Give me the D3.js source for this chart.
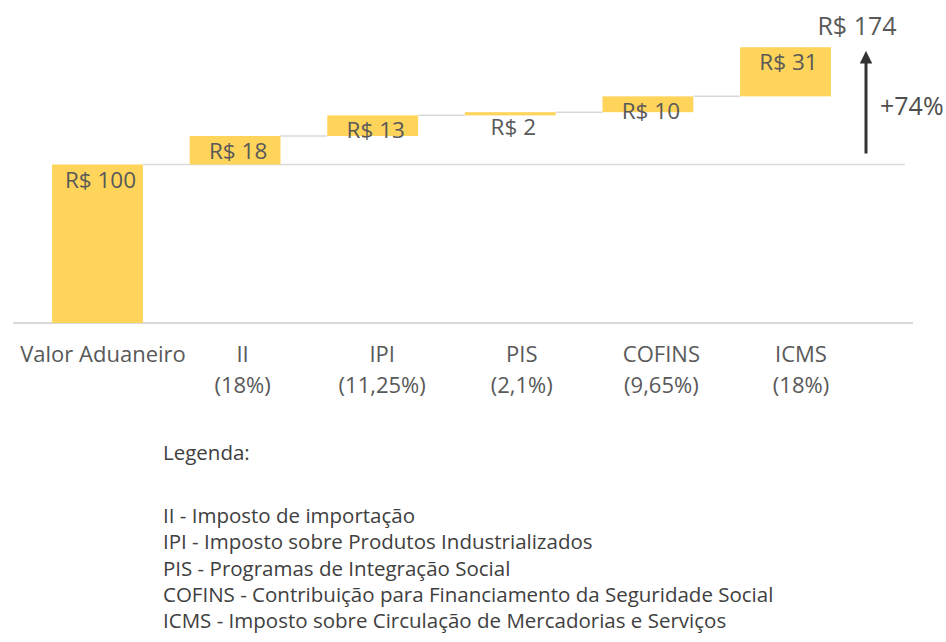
<!DOCTYPE html>
<html>
<head>
<meta charset="utf-8">
<script src="https://cdn.jsdelivr.net/npm/d3@7"></script>
<style>
  body { margin: 0; background: #fff; }
  text { font-family: "Open Sans", sans-serif; }
</style>
</head>
<body>
<svg id="chart" width="946" height="642"></svg>
<script>
// chart data
const categories = ["Valor Aduaneiro", "II", "IPI", "PIS", "COFINS", "ICMS"];
const rates = ["", "(18%)", "(11,25%)", "(2,1%)", "(9,65%)", "(18%)"];
const values = [100, 18, 13, 2, 10, 31];
const totalValue = 174;
const growthLabel = "+74%";

const legendTitle = "Legenda:";
const legendItems = [
  "II - Imposto de importação",
  "IPI - Imposto sobre Produtos Industrializados",
  "PIS - Programas de Integração Social",
  "COFINS - Contribuição para Financiamento da Seguridade Social",
  "ICMS - Imposto sobre Circulação de Mercadorias e Serviços"
];

const svg = d3.select("#chart");

// waterfall start / end for each step
let running = 0;
const steps = categories.map((c, i) => {
  const start = i === 0 ? 0 : running;
  running = (i === 0 ? 0 : running) + values[i];
  return { cat: c, start: start, end: running, value: values[i] };
});

const x = d3.scaleBand()
  .domain(categories)
  .range([28.7, 854.3])
  .paddingInner(0.34)
  .paddingOuter(0.17);

const y = d3.scaleLinear()
  .domain([0, 200])
  .range([323, 6]);

const xLabel = d3.scalePoint()
  .domain(categories)
  .range([103, 801]);

// baseline
svg.append("line")
  .attr("x1", 13).attr("x2", 913)
  .attr("y1", y(0)).attr("y2", y(0))
  .attr("stroke", "#d9d9d9")
  .attr("stroke-width", 2);

// reference line at the customs value level
svg.append("line")
  .attr("x1", x(categories[0]) + x.bandwidth()).attr("x2", 905)
  .attr("y1", y(values[0])).attr("y2", y(values[0]))
  .attr("stroke", "#d9d9d9")
  .attr("stroke-width", 1.5);

// connectors between bars
svg.selectAll(".connector")
  .data(steps.slice(1, -1))
  .enter()
  .append("line")
  .attr("class", "connector")
  .attr("x1", d => x(d.cat) + x.bandwidth())
  .attr("x2", (d, i) => x(categories[i + 2]))
  .attr("y1", d => y(d.end))
  .attr("y2", d => y(d.end))
  .attr("stroke", "#d9d9d9")
  .attr("stroke-width", 1.5);

// bars
svg.selectAll(".bar")
  .data(steps)
  .enter()
  .append("rect")
  .attr("class", "bar")
  .attr("x", d => x(d.cat))
  .attr("y", d => y(d.end))
  .attr("width", x.bandwidth())
  .attr("height", d => y(d.start) - y(d.end))
  .attr("fill", "#ffd45a");

// value labels
svg.selectAll(".value")
  .data(steps)
  .enter()
  .append("text")
  .attr("class", "value")
  .attr("x", d => x(d.cat) + x.bandwidth() / 2 + 3)
  .attr("y", d => y(d.end) + 23)
  .attr("text-anchor", "middle")
  .attr("font-size", "22.5px")
  .attr("fill", "#595959")
  .text(d => "R$ " + d.value);

// category labels (two lines)
const catLabels = svg.selectAll(".cat")
  .data(categories)
  .enter()
  .append("text")
  .attr("class", "cat")
  .attr("text-anchor", "middle")
  .attr("font-size", "22px")
  .attr("fill", "#595959");

catLabels.append("tspan")
  .attr("x", d => xLabel(d))
  .attr("y", 362)
  .text(d => d);

catLabels.append("tspan")
  .attr("x", d => xLabel(d))
  .attr("y", 393)
  .text((d, i) => rates[i]);

// total arrow
const arrowX = 866;
svg.append("defs").append("marker")
  .attr("id", "head")
  .attr("viewBox", "0 0 10 10")
  .attr("refX", 5).attr("refY", 5)
  .attr("markerWidth", 4.2).attr("markerHeight", 4.2)
  .attr("orient", "auto")
  .append("path")
  .attr("d", "M0,0 L10,5 L0,10 z")
  .attr("fill", "#333");

svg.append("line")
  .attr("x1", arrowX).attr("x2", arrowX)
  .attr("y1", y(values[0]) - 11)
  .attr("y2", y(totalValue) + 10)
  .attr("stroke", "#333")
  .attr("stroke-width", 3)
  .attr("marker-end", "url(#head)");

svg.append("text")
  .attr("x", arrowX - 9)
  .attr("y", 35)
  .attr("text-anchor", "middle")
  .attr("font-size", "25px")
  .attr("fill", "#595959")
  .text("R$ " + totalValue);

svg.append("text")
  .attr("x", 880)
  .attr("y", 115)
  .attr("font-size", "25px")
  .attr("fill", "#4d4d4d")
  .text(growthLabel);

// legend
const legend = svg.append("g")
  .attr("transform", "translate(163, 0)");

legend.append("text")
  .attr("x", 0).attr("y", 460)
  .attr("font-size", "20.5px")
  .attr("fill", "#404040")
  .text(legendTitle);

legend.selectAll(".item")
  .data(legendItems)
  .enter()
  .append("text")
  .attr("class", "item")
  .attr("x", 0)
  .attr("y", (d, i) => 523 + i * 26.3)
  .attr("font-size", "20.5px")
  .attr("fill", "#404040")
  .text(d => d);
</script>
</body>
</html>
